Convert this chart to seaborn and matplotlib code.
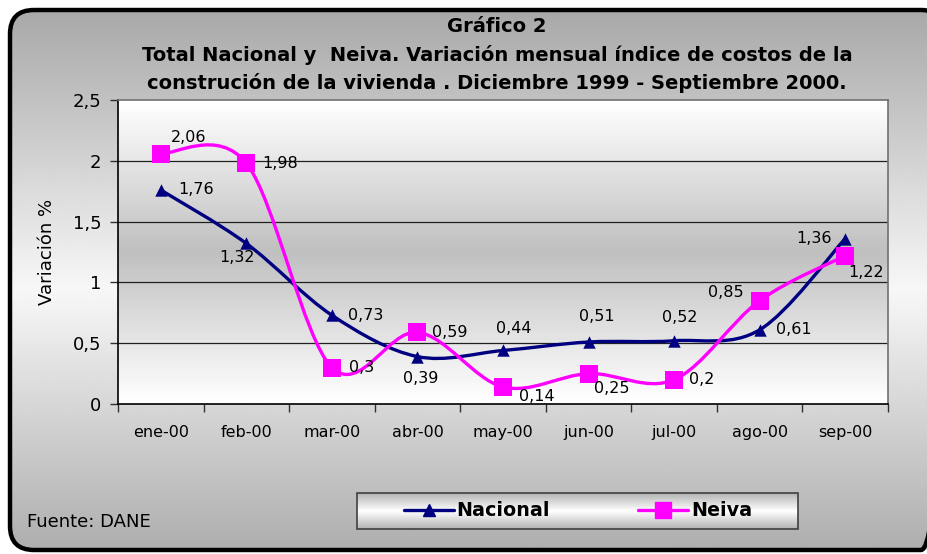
import numpy as np
import seaborn as sns
import matplotlib.pyplot as plt
from matplotlib.path import Path
from matplotlib.patches import PathPatch, FancyBboxPatch, Rectangle
from matplotlib.lines import Line2D

# datos
months = ['ene-00', 'feb-00', 'mar-00', 'abr-00', 'may-00',
          'jun-00', 'jul-00', 'ago-00', 'sep-00']
nacional = [1.76, 1.32, 0.73, 0.39, 0.44, 0.51, 0.52, 0.61, 1.36]
neiva = [2.06, 1.98, 0.3, 0.59, 0.14, 0.25, 0.2, 0.85, 1.22]
y_ticks = [0, 0.5, 1, 1.5, 2, 2.5]
y_tick_labels = ['0', '0,5', '1', '1,5', '2', '2,5']

# posicion de las etiquetas (pixeles respecto al marcador, alineacion)
nac_offsets = [(17, 0, 'left'), (-9, -14, 'center'), (16, 0, 'left'),
               (3, -22, 'center'), (11, 22, 'center'), (8, 25, 'center'),
               (6, 23, 'center'), (16, 0, 'left'), (-13, 0, 'right')]
nei_offsets = [(28, 16, 'center'), (16, 0, 'left'), (17, 0, 'left'),
               (15, 0, 'left'), (34, -10, 'center'), (23, -15, 'center'),
               (15, 0, 'left'), (-16, 8, 'right'), (21, -17, 'center')]

NAVY = '#000080'
MAGENTA = '#FF00FF'

sns.set_theme(style='white', rc={'text.color': 'black', 'axes.labelcolor': 'black',
                                 'xtick.color': 'black', 'ytick.color': 'black'})
plt.rcParams['font.family'] = ['DejaVu Sans']


def smooth_path(xs, ys):
    # curva suavizada tipo Excel (bezier por Catmull-Rom)
    pts = np.column_stack([xs, ys]).astype(float)
    n = len(pts)
    verts = [pts[0]]
    codes = [Path.MOVETO]
    for i in range(n - 1):
        p0 = pts[max(i - 1, 0)]
        p1 = pts[i]
        p2 = pts[i + 1]
        p3 = pts[min(i + 2, n - 1)]
        verts += [p1 + (p2 - p0) / 6, p2 - (p3 - p1) / 6, p2]
        codes += [Path.CURVE4] * 3
    return Path(verts, codes)


fig = plt.figure(figsize=(9.28, 5.54), dpi=100)
fig.patch.set_facecolor('white')

# fondo con degradado y borde redondeado
bg = fig.add_axes([0, 0, 1, 1], zorder=-5)
bg.set_xlim(0, 928)
bg.set_ylim(554, 0)
bg.axis('off')
frame = FancyBboxPatch((10, 10), 935, 540, boxstyle='round,pad=0,rounding_size=24',
                       fc='none', ec='black', lw=3.2, zorder=3)
bg.add_patch(frame)
yy = np.linspace(10, 550, 300)
shade = 0.66 + 0.31 * (1 - np.abs(yy - 290) / 280)
img = bg.imshow(shade[:, None], extent=(0, 945, 550, 10), cmap='gray',
                vmin=0, vmax=1, aspect='auto', zorder=1)
img.set_clip_path(frame)

# caja de la leyenda
leg_box = Rectangle((357, 493), 441, 36, fc='none', ec='#404040', lw=1.2, zorder=3)
bg.add_patch(leg_box)
t = np.linspace(0, 1, 100)
leg_shade = 1 - 0.3 * np.abs(t - 0.5) * 2
bg.imshow(leg_shade[:, None], extent=(357, 798, 529, 493), cmap='gray',
          vmin=0, vmax=1, aspect='auto', zorder=2)

# area de trazado
ax = fig.add_axes([118 / 928, 150 / 554, 770 / 928, 304 / 554])
ax.patch.set_alpha(0)
ax.imshow((0.75 + 0.25 * np.abs(t - 0.5) * 2)[:, None], extent=(-0.5, 8.5, 0, 2.5),
          cmap='gray', vmin=0, vmax=1, aspect='auto', zorder=0)

x = np.arange(len(months))
ax.add_patch(PathPatch(smooth_path(x, nacional), fc='none', ec=NAVY, lw=2.4, zorder=3))
ax.add_patch(PathPatch(smooth_path(x, neiva), fc='none', ec=MAGENTA, lw=2.4, zorder=3))
sns.scatterplot(x=x, y=nacional, marker='^', s=80, color=NAVY, edgecolor=NAVY,
                linewidth=0, ax=ax, zorder=4)
sns.scatterplot(x=x, y=neiva, marker='s', s=150, color=MAGENTA, edgecolor=MAGENTA,
                linewidth=0, ax=ax, zorder=4)

for i, v in enumerate(nacional):
    dx, dy, ha = nac_offsets[i]
    ax.annotate(str(v).replace('.', ','), (i, v), xytext=(dx, dy),
                textcoords='offset pixels', ha=ha, va='center', fontsize=11.5,
                color='black', zorder=5)
for i, v in enumerate(neiva):
    dx, dy, ha = nei_offsets[i]
    ax.annotate(str(v).replace('.', ','), (i, v), xytext=(dx, dy),
                textcoords='offset pixels', ha=ha, va='center', fontsize=11.5,
                color='black', zorder=5)

ax.set_xlim(-0.5, 8.5)
ax.set_ylim(0, 2.5)
ax.set_xticks(x)
ax.set_xticklabels(months, fontsize=11.5)
ax.set_xticks(np.arange(-0.5, 9, 1), minor=True)
ax.tick_params(axis='x', which='major', length=0, pad=15, labelcolor='black')
ax.tick_params(axis='x', which='minor', length=6, width=1, color='#303030',
               direction='out', bottom=True)
ax.set_yticks(y_ticks)
ax.set_yticklabels(y_tick_labels, fontsize=13)
ax.tick_params(axis='y', length=6, width=1, color='#303030', direction='out',
               left=True, pad=6, labelcolor='black')
ax.grid(False)
for yv in y_ticks[1:-1]:
    ax.axhline(yv, color='#202020', lw=0.9, zorder=1)
for side in ['top', 'right']:
    ax.spines[side].set_color('#707070')
    ax.spines[side].set_linewidth(1.2)
for side in ['left', 'bottom']:
    ax.spines[side].set_color('black')
    ax.spines[side].set_linewidth(1.2)
ax.set_xlabel('')
ax.set_ylabel('Variación %', fontsize=13, labelpad=12, color='black')

# titulos
fig.text(497 / 928, 1 - 32 / 554, 'Gráfico 2', ha='center', va='baseline',
         fontsize=14, fontweight='bold', color='black')
fig.text(497 / 928, 1 - 61 / 554,
         'Total Nacional y  Neiva. Variación mensual índice de costos de la',
         ha='center', va='baseline', fontsize=14, fontweight='bold', color='black')
fig.text(497 / 928, 1 - 89 / 554,
         'construción de la vivienda . Diciembre 1999 - Septiembre 2000.',
         ha='center', va='baseline', fontsize=14, fontweight='bold', color='black')
fig.text(27 / 928, 1 - 522 / 554, 'Fuente: DANE', ha='left', va='center',
         fontsize=13, color='black')

handles = [Line2D([], [], color=NAVY, lw=2.4, marker='^', markersize=9),
           Line2D([], [], color=MAGENTA, lw=2.4, marker='s', markersize=12)]
leg = fig.legend(handles, ['Nacional', 'Neiva'], loc='center', ncol=2, frameon=False,
                 bbox_to_anchor=(578 / 928, 1 - 511 / 554), handlelength=2.6,
                 columnspacing=4.6, handletextpad=0.15,
                 prop={'weight': 'bold', 'size': 13.8})
for txt in leg.get_texts():
    txt.set_color('black')

fig.savefig('out.png', dpi=100)
